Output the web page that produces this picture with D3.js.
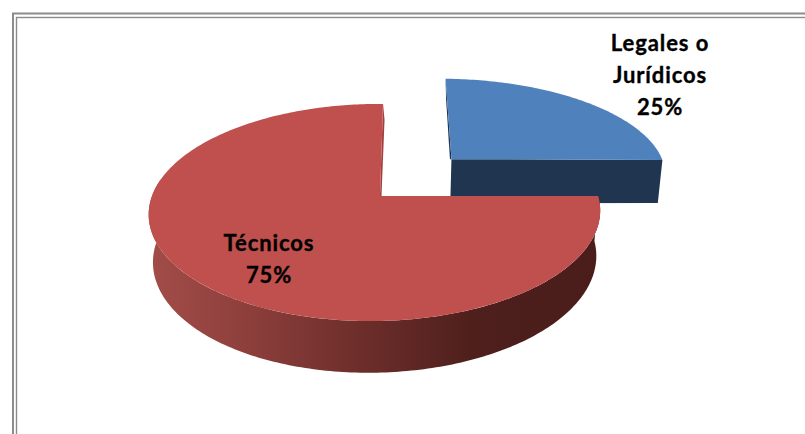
<!DOCTYPE html>
<html><head><meta charset="utf-8">
<script src="https://cdn.jsdelivr.net/npm/d3@7/dist/d3.min.js"></script>
<style>html,body{margin:0;padding:0;background:#fff}svg{display:block}</style>
</head><body><svg id="c" width="805" height="434"></svg>
<script>
const categories = ["Legales o Jurídicos", "Técnicos"];
const values = [25, 75];
const labelLines = [["Legales o", "Jurídicos", "25%"], ["Técnicos", "75%"]];
const topColors = ["#4F81BD", "#C0504D"];
const wallColors = ["#1F3550", "#A33F3E"];

const W = 805, H = 434;
const svg = d3.select("#c");

// frame
const frame = svg.append("g").attr("fill", "none").attr("stroke", "#8c8c8c");
frame.append("rect").attr("x", 13).attr("y", 13.5).attr("width", 800).attr("height", 440).attr("stroke-width", 2);
frame.append("rect").attr("x", 16.5).attr("y", 17.5).attr("width", 800).attr("height", 440).attr("stroke-width", 1.4);

// perspective model of the pie's plane
const view = {cx: 380, cy: 196, R: 223, k: 106, p: -0.152, q: 0.022, s: -3.5, depth: 47, shrink: 0.018};
function project(u, v, lower) {
  const w = 1 + view.q * u + view.p * v + (lower ? view.shrink : 0);
  return [view.cx + (view.R * u + view.s * v) / w,
          view.cy + (view.k * v + (lower ? view.depth : 0)) / w];
}
const explode = [{u: 0.335, v: -0.37, ru: 1.035, rv: 0.97}, {u: 0, v: 0, ru: 1, rv: 1}];

const pie = d3.pie().sort(null).value(d => d);
const slices = pie(values);
function ringPoint(a, e, lower) {
  return project(e.u + e.ru * Math.sin(a), e.v - e.rv * Math.cos(a), lower);
}
const line = d3.line();
function arcPts(a0, a1, e, lower) {
  const n = Math.max(8, Math.round(Math.abs(a1 - a0) * 60));
  return d3.range(n + 1).map(i => ringPoint(a0 + (a1 - a0) * i / n, e, lower));
}

const defs = svg.append("defs");
const grad = defs.append("linearGradient").attr("id", "wall")
  .attr("gradientUnits", "userSpaceOnUse").attr("x1", 150).attr("x2", 600).attr("y1", 0).attr("y2", 0);
[[0, "#A34C48"], [0.2, "#8F403D"], [0.45, "#6F2F2C"], [0.72, "#4E1F1C"], [1, "#4A1D1B"]]
  .forEach(d => grad.append("stop").attr("offset", d[0]).attr("stop-color", d[1]));

// blue slice
{
  const s = slices[0], e = explode[0];
  const apex = project(e.u, e.v), apexL = project(e.u, e.v, true);
  const c1 = ringPoint(s.endAngle, e), c1L = ringPoint(s.endAngle, e, true);
  const c0 = ringPoint(s.startAngle, e);
  svg.append("path").attr("d", line([c0, apex, [apex[0] - 1.5, apex[1]], [c0[0] + 0.5, c0[1] + 20]]) + "Z").attr("fill", wallColors[0]);
  svg.append("path").attr("d", line([apex, c1, c1L, apexL]) + "Z").attr("fill", wallColors[0]);
  svg.append("path").attr("d", line([apex].concat(arcPts(s.startAngle, s.endAngle, e))) + "Z").attr("fill", topColors[0]);
}
// red slice
{
  const s = slices[1], e = explode[1];
  const a0 = s.startAngle, a1 = s.endAngle;
  const apex = project(0, 0);
  const upper = arcPts(a0, Math.PI * 1.55, e);
  const lower = arcPts(a0, Math.PI * 1.55, e, true).reverse();
  svg.append("path").attr("d", line(upper.concat(lower)) + "Z").attr("fill", "url(#wall)");
  const top = ringPoint(a1, e);
  svg.append("path").attr("d", line([apex, top, [top[0] + 1.5, top[1] + 16], [apex[0] + 1.5, apex[1]]]) + "Z").attr("fill", wallColors[1]);
  svg.append("path").attr("d", line([apex].concat(arcPts(a0, a1, e))) + "Z").attr("fill", topColors[1]);
}

// labels
const labelPos = [[660, 51], [269, 251]];
const lineGap = 32;
labelLines.forEach((lines, i) => {
  const t = svg.append("text").attr("text-anchor", "middle")
    .attr("font-family", "Lato, 'Open Sans', sans-serif").attr("font-weight", 700)
    .attr("font-size", 22).attr("letter-spacing", 0.9).attr("fill", "#000").attr("stroke", "#000").attr("stroke-width", 0.35);
  lines.forEach((l, j) => t.append("tspan").attr("x", labelPos[i][0]).attr("y", labelPos[i][1] + j * lineGap).text(l));
});
</script></body></html>
